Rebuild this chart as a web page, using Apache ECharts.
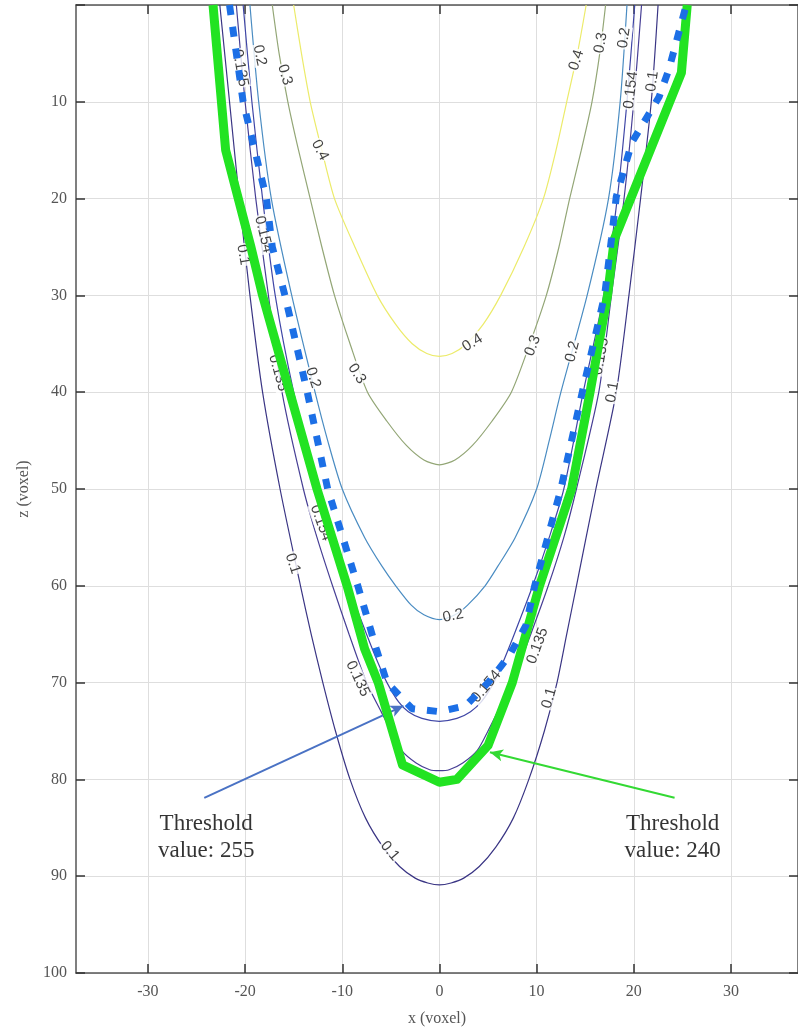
<!DOCTYPE html>
<html><head><meta charset="utf-8">
<script src="https://cdn.jsdelivr.net/npm/echarts@6/dist/echarts.min.js"></script>
<style>html,body{margin:0;padding:0;background:#fff}#c{width:798px;height:1032px}</style>
</head><body><div id="c"></div>
<script>
// ---- data ----
const xTickValues = [-30, -20, -10, 0, 10, 20, 30];

const contour04 = [[-15.0,0],[-14.2,5],[-13.3,10],[-12.1,15],[-10.8,20],[-8.7,25],[-6.4,30],[-4.5,33],[-2.8,35],[-1.3,36],[0,36.3],
  [1.3,36],[2.8,35],[4.5,33],[6.3,30],[8.7,25],[10.7,20],[12.0,15],[13.1,10],[14.2,5],[15.1,0]];
const contour03 = [[-17.2,0],[-16.5,5],[-15.6,10],[-14.5,15],[-13.3,20],[-12.1,25],[-10.8,30],[-9.2,35],[-7.4,40],[-5.4,43],[-3.4,45.5],[-1.6,47],[0,47.5],
  [1.6,47],[3.4,45.5],[5.4,43],[7.4,40],[9.3,35],[11.0,30],[12.3,25],[13.4,20],[14.6,15],[15.7,10],[16.5,5],[17.1,0]];
const contour02 = [[-19.5,0],[-18.6,10],[-17.3,20],[-15.2,30],[-12.8,40],[-11.5,45],[-10.0,50],[-7.7,55],[-5.9,58],[-4.5,60],[-2.9,62],[-1.6,63],[0,63.5],
  [1.6,63],[2.9,62],[4.7,60],[6.0,58],[7.8,55],[10.0,50],[11.3,45],[12.5,40],[15.2,30],[17.4,20],[18.6,10],[19.3,0]];
const contour0154 = [[-20.2,0],[-19.3,10],[-18.2,20],[-16.9,30],[-15.0,40],[-12.6,50],[-11.1,55],[-9.4,60],[-7.5,65],[-6.3,68],[-5.4,70],[-4.2,72],[-3.2,73],[-1.8,73.7],[0,74.0],
  [1.8,73.7],[3.2,73],[4.3,72],[5.6,70],[6.5,68],[7.7,65],[9.6,60],[11.3,55],[12.8,50],[14.8,40],[16.9,30],[18.3,20],[19.3,10],[20.1,0]];
const contour0135 = [[-20.9,0],[-20.0,10],[-18.9,20],[-17.6,30],[-16.2,40],[-14.0,50],[-12.6,55],[-11.0,60],[-9.3,65],[-7.5,70],[-6.0,73],[-5.0,75],[-3.9,77],[-2.4,78.3],[-1.0,79],[0,79.1],
  [1.0,79],[2.4,78.3],[3.9,77],[5.0,75],[6.0,73],[7.5,70],[9.4,65],[11.2,60],[12.8,55],[14.1,50],[16.4,40],[17.7,30],[19.0,20],[20.0,10],[20.8,0]];
const contour01 = [[-22.6,0],[-21.6,10],[-20.6,20],[-19.5,30],[-18.2,40],[-16.4,50],[-14.3,60],[-13.2,65],[-12.0,70],[-10.7,75],[-9.2,80],[-7.6,84],[-5.8,87],[-4.1,89],[-2.5,90.2],[-1.2,90.7],[0,90.9],
  [1.2,90.7],[2.5,90.2],[4.1,89],[5.8,87],[7.6,84],[9.2,80],[10.8,75],[12.1,70],[13.1,65],[14.1,60],[16.1,50],[18.2,40],[19.5,30],[20.7,20],[21.8,10],[22.5,0]];

const threshold240 = [[-23.3,0],[-22.0,15],[-19.4,25],[-18.2,30],[-15.4,40],[-12.6,50],[-9.5,60],[-7.7,66.5],[-6.3,70],[-3.8,78.5],[0,80.3],[1.8,80],[5.0,76.5],[7.5,70],[10.3,60],[13.6,50],[15.5,40],[17.3,30],[18.0,24.2],[24.9,7],[25.5,0]];
const threshold255 = [[-21.6,0],[-20.2,10],[-17.8,20],[-17.2,25],[-15.9,30],[-13.6,40],[-11.5,50],[-8.4,60],[-6.5,66.5],[-5.4,70],[-2.8,72.7],[0,73],[2.7,72.4],[5.1,69.9],[7.2,67.2],[8.9,64.1],[9.8,60],[12.5,50],[14.7,40],[17.0,30],[17.7,24.2],[18.2,19.8],[19.8,14.2],[22.6,9.5],[23.6,6.7],[25.4,0]];

// contour labels: x, z, text, rotation (deg)
const contourLabels = [
  [-20.5,6.5,'0.135',-80],[-18.5,5.2,'0.2',-78],[-15.9,7.2,'0.3',-73],[-12.3,15,'0.4',-63],
  [-18.1,23.7,'0.154',-76],[-20.2,25.8,'0.1',-80],[-16.6,38,'0.135',-74],[-13,38.5,'0.2',-72],
  [-8.5,38.1,'0.3',-57],[-12.2,53.5,'0.154',-70],[-15.1,57.7,'0.1',-72],[-8.4,69.6,'0.135',-65],
  [-5.1,87.4,'0.1',-50],[4.8,70.4,'0.154',50],[1.4,63.1,'0.2',12],[3.4,34.9,'0.4',32],
  [9.6,35.2,'0.3',68],[13.7,35.8,'0.2',76],[16.6,36.3,'0.135',80],[17.8,40,'0.1',80],
  [10.1,66.2,'0.135',70],[11.3,71.6,'0.1',74],[14.1,5.7,'0.4',72],[16.6,3.9,'0.3',80],
  [19.0,3.4,'0.2',82],[19.7,8.8,'0.154',83],[21.9,7.9,'0.1',82]
];

const noteTexts = ['Threshold\nvalue: 255', 'Threshold\nvalue: 240'];
const notePositions = [[-24.0,86.0],[24.0,86.0]];
const arrow255 = [[-24.2,81.9],[-3.7,72.4]];
const arrow240 = [[24.2,81.9],[5.2,77.2]];

// ---- chart ----
const serif = "'Liberation Serif','Times New Roman',serif";
const chart = echarts.init(document.getElementById('c'), null, {renderer:'canvas'});

const contours = [
  {data: contour04, color:'#eceb6a'},
  {data: contour03, color:'#93a676'},
  {data: contour02, color:'#4a8cc2'},
  {data: contour0154, color:'#3f46a6'},
  {data: contour0135, color:'#473f95'},
  {data: contour01, color:'#3a3584'}
];

const series = contours.map(c => ({
  type:'line', data:c.data, smooth:0.25, showSymbol:false, silent:true, z:2,
  lineStyle:{color:c.color, width:1.2}
}));

series.push({
  type:'scatter', z:3, silent:true, symbolSize:0,
  data: contourLabels.map(l => ({value:[l[0], l[1]], label:{formatter:l[2], rotate:l[3]}})),
  label:{show:true, position:'inside', color:'#111', fontSize:15,
    fontFamily:"'Liberation Sans',Arial,sans-serif", backgroundColor:'#fff', padding:[0,1]}
});

series.push({
  type:'line', data:threshold240, showSymbol:false, silent:true, z:5,
  lineStyle:{color:'#22e322', width:9, join:'round', cap:'butt'}
});
series.push({
  type:'line', data:threshold255, showSymbol:false, silent:true, z:6,
  lineStyle:{color:'#1c6fe6', width:7, type:[10,12], cap:'butt'}
});

series.push({
  type:'scatter', z:8, silent:true, symbolSize:0,
  data: notePositions.map((p,i) => ({value:p, label:{formatter:noteTexts[i]}})),
  label:{show:true, position:'inside', color:'#000', fontSize:23, lineHeight:27,
    fontFamily:serif, align:'center'},
  markLine:{
    silent:true, symbol:['none','arrow'], symbolSize:[9,13], label:{show:false},
    data:[
      [{coord:arrow255[0], lineStyle:{color:'#4a72c4', width:2, type:'solid'}},{coord:arrow255[1]}],
      [{coord:arrow240[0], lineStyle:{color:'#33d933', width:2, type:'solid'}},{coord:arrow240[1]}]
    ]
  }
});

const axisLine = {show:true, onZero:false, lineStyle:{color:'#555', width:1.5}};
const tick = {show:true, inside:true, length:9, lineStyle:{color:'#333', width:1.5}};

chart.setOption({
  animation:false,
  backgroundColor:'#fff',
  grid:{left:76, top:5, width:723, height:970, containLabel:false},
  xAxis:[
    {type:'value', min:-37.4, max:36.9, splitNumber:7, position:'bottom',
     axisLine, axisTick:{...tick, customValues:xTickValues},
     axisLabel:{customValues:xTickValues, color:'#555', fontSize:16, fontFamily:serif, margin:11},
     splitLine:{show:true, lineStyle:{color:'#dedede', width:1}},
     name:'x (voxel)', nameLocation:'middle', nameGap:38,
     nameTextStyle:{color:'#555', fontSize:16, fontFamily:serif}},
    {type:'value', min:-37.4, max:36.9, position:'top',
     axisLine, axisTick:{...tick, customValues:xTickValues},
     axisLabel:{show:false}, splitLine:{show:false}}
  ],
  yAxis:[
    {type:'value', min:0, max:100, interval:10, inverse:true, position:'left',
     axisLine, axisTick:tick,
     axisLabel:{color:'#555', fontSize:16, fontFamily:serif, margin:9,
       formatter: v => (v === 0 ? '' : String(v))},
     splitLine:{show:true, lineStyle:{color:'#dedede', width:1}},
     name:'z (voxel)', nameLocation:'middle', nameGap:42,
     nameTextStyle:{color:'#555', fontSize:16, fontFamily:serif}},
    {type:'value', min:0, max:100, interval:10, inverse:true, position:'right',
     axisLine, axisTick:tick, axisLabel:{show:false}, splitLine:{show:false}}
  ],
  series
});
</script></body></html>
